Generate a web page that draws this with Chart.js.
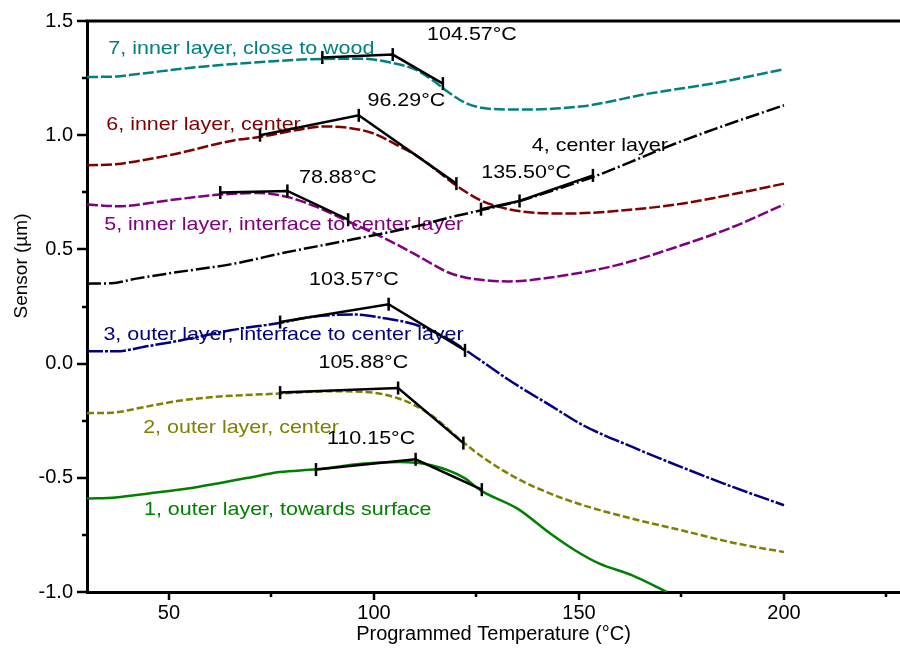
<!DOCTYPE html>
<html>
<head>
<meta charset="utf-8">
<script src="https://cdn.jsdelivr.net/npm/chart.js@4.4.1/dist/chart.umd.min.js"></script>
<style>
  html, body { margin: 0; padding: 0; background: #fff; }
  #wrap { width: 900px; height: 648px; }
</style>
</head>
<body>
<div id="wrap"><canvas id="chart" width="900" height="648"></canvas></div>
<script>
// Sensor displacement (µm) against programmed temperature (°C), one trace per sensor position
const temp1 = [30, 37, 45, 57, 69, 77, 86, 97, 106, 114, 122, 126, 135, 143, 149, 155, 163, 171.5];
const sensor1 = [-0.591, -0.586, -0.569, -0.540, -0.501, -0.475, -0.463, -0.438, -0.431, -0.445, -0.500, -0.555, -0.635, -0.744, -0.817, -0.876, -0.927, -1.0];

const temp2 = [30, 36, 44, 52, 61, 77, 90, 98, 106, 113.5, 122, 127, 135, 143, 151, 163, 175, 187.5, 200];
const sensor2 = [-0.217, -0.215, -0.190, -0.164, -0.146, -0.131, -0.121, -0.124, -0.153, -0.220, -0.348, -0.416, -0.504, -0.569, -0.620, -0.679, -0.730, -0.784, -0.825];

const temp3 = [30, 37, 45, 53, 65, 77, 85, 95, 103, 110, 118, 123, 126, 133, 143, 151, 163, 175, 187.5, 200];
const sensor3 = [0.054, 0.054, 0.077, 0.102, 0.146, 0.178, 0.205, 0.215, 0.197, 0.171, 0.109, 0.051, 0.014, -0.073, -0.183, -0.270, -0.365, -0.453, -0.540, -0.620];

const temp4 = [30, 36, 42, 50, 66, 78, 90, 98, 110, 118, 126, 135.5, 144, 153.4, 164, 171.3, 183.4, 200];
const sensor4 = [0.350, 0.352, 0.372, 0.395, 0.438, 0.485, 0.527, 0.555, 0.600, 0.638, 0.671, 0.712, 0.760, 0.817, 0.893, 0.948, 1.029, 1.131];

const temp5 = [30, 37.5, 50, 62.5, 72, 79, 86, 94, 102, 110.5, 114, 118, 122, 127, 133, 143, 159, 175, 187.5, 200];
const sensor5 = [0.697, 0.689, 0.715, 0.740, 0.747, 0.729, 0.686, 0.620, 0.554, 0.474, 0.438, 0.400, 0.378, 0.365, 0.360, 0.377, 0.430, 0.518, 0.598, 0.697];

const temp6 = [30, 37, 50, 66, 72, 82, 88, 94, 100, 105.5, 110, 115, 120, 126, 131, 136, 147, 159, 175, 191.5, 200];
const sensor6 = [0.868, 0.873, 0.912, 0.978, 0.992, 1.025, 1.038, 1.032, 1.007, 0.958, 0.915, 0.850, 0.781, 0.715, 0.684, 0.666, 0.657, 0.668, 0.700, 0.756, 0.788];

const temp7 = [30, 37, 42, 58, 74, 85, 97, 104, 110, 114, 118, 122.5, 127.5, 135, 151, 167, 183.5, 200];
const sensor7 = [1.255, 1.257, 1.267, 1.300, 1.322, 1.333, 1.335, 1.318, 1.288, 1.245, 1.190, 1.140, 1.117, 1.112, 1.127, 1.182, 1.229, 1.289];

// Onset temperatures (°C) from the tangent construction, sensors 1..7
const onsetTemps = [110.15, 105.88, 103.57, 135.50, 78.88, 96.29, 104.57];

// Tangent construction: [start, onset, end] temperature and sensor readings
const tangentTemps = [
  [85.85, onsetTemps[0], 126.3],
  [77.1, onsetTemps[1], 121.8],
  [77.1, onsetTemps[2], 122.2],
  [126.1, onsetTemps[3], 153.4],
  [62.5, onsetTemps[4], 93.7],
  [72.2, onsetTemps[5], 120.1],
  [87.4, onsetTemps[6], 116.8]
];
const tangentSensor = [
  [-0.464, -0.419, -0.552],
  [-0.127, -0.107, -0.348],
  [0.182, 0.260, 0.058],
  [0.676, 0.712, 0.824],
  [0.749, 0.756, 0.630],
  [1.000, 1.087, 0.788],
  [1.340, 1.353, 1.226]
];

const seriesNames = [
  '1, outer layer, towards surface',
  '2, outer layer, center',
  '3, outer layer, interface to center layer',
  '4, center layer',
  '5, inner layer, interface to center layer',
  '6, inner layer, center',
  '7, inner layer, close to wood'
];

const xTickValues = [50, 75, 100, 125, 150, 175, 200, 225];
const yTickValues = [-1.0, -0.75, -0.5, -0.25, 0, 0.25, 0.5, 0.75, 1.0, 1.25, 1.5];

// ---- styling -------------------------------------------------------------
const FONT = '"Liberation Sans", Arial, Helvetica, sans-serif';
const seriesColors = ['#008000', '#808000', '#000080', '#000000', '#800080', '#800000', '#008080'];
const seriesDash = [[], [7, 3], [16, 2, 3, 2], [14, 3, 2, 3], [11, 3], [11, 3], [11, 3]];

// where the series names and onset values sit, in axis units (left edge / centre)
const nameAnchors = [[43.9, -0.642], [43.7, -0.283], [34.0, 0.124], [138.5, 0.952], [34.2, 0.609], [34.7, 1.043], [35.2, 1.376]];
const onsetAnchors = [[99.3, -0.328], [97.4, 0.001], [95.1, 0.365], [137.1, 0.833], [91.2, 0.811], [107.9, 1.148], [123.9, 1.437]];

const toXY = (xs, ys) => xs.map((x, i) => ({ x: x, y: ys[i] }));
const temps = [temp1, temp2, temp3, temp4, temp5, temp6, temp7];
const sensors = [sensor1, sensor2, sensor3, sensor4, sensor5, sensor6, sensor7];

const datasets = [];
temps.forEach((t, i) => {
  datasets.push({
    label: seriesNames[i],
    data: toXY(t, sensors[i]),
    borderColor: seriesColors[i],
    borderWidth: 2.5,
    borderDash: seriesDash[i],
    pointRadius: 0,
    cubicInterpolationMode: 'monotone',
    fill: false,
    order: 1
  });
});
tangentTemps.forEach((t, i) => {
  datasets.push({
    label: 'onset ' + (i + 1),
    data: toXY(t, tangentSensor[i]),
    borderColor: '#000',
    borderWidth: 2.5,
    tension: 0,
    pointStyle: 'line',
    rotation: 90,
    pointRadius: 6.5,
    pointBorderWidth: 2.5,
    pointBorderColor: '#000',
    fill: false,
    order: 0
  });
});

// stretched text to suit the wide face of the labels
function wideText(ctx, text, px, py, color, align) {
  ctx.save();
  ctx.translate(px, py);
  ctx.scale(1.16, 1);
  ctx.font = '18.5px ' + FONT;
  ctx.fillStyle = color;
  ctx.textAlign = align;
  ctx.textBaseline = 'middle';
  ctx.fillText(text, 0, 0);
  ctx.restore();
}

const labelsPlugin = {
  id: 'labels',
  beforeDatasetsDraw(chart) {
    const { ctx, scales: { x, y } } = chart;
    nameAnchors.forEach((a, i) => {
      wideText(ctx, seriesNames[i], x.getPixelForValue(a[0]), y.getPixelForValue(a[1]), seriesColors[i], 'left');
    });
    onsetAnchors.forEach((a, i) => {
      wideText(ctx, onsetTemps[i].toFixed(2) + '°C', x.getPixelForValue(a[0]), y.getPixelForValue(a[1]), '#000', 'center');
    });
  }
};

const framePlugin = {
  id: 'frame',
  afterDraw(chart) {
    const { ctx, chartArea: a, scales: { x, y } } = chart;
    ctx.save();
    ctx.strokeStyle = '#000';
    ctx.lineWidth = 2.5;
    ctx.beginPath();
    xTickValues.forEach(v => {
      const px = Math.round(x.getPixelForValue(v));
      const len = v % 50 === 0 ? 8 : 5;
      ctx.moveTo(px, a.bottom);
      ctx.lineTo(px, a.bottom + len);
    });
    yTickValues.forEach(v => {
      const py = Math.round(y.getPixelForValue(v));
      const major = Math.abs(v * 2 - Math.round(v * 2)) < 1e-9;
      ctx.moveTo(a.left - (major ? 10 : 5), py);
      ctx.lineTo(a.left, py);
    });
    ctx.stroke();
    ctx.lineWidth = 3;
    ctx.beginPath();
    ctx.moveTo(a.left - 1.5, a.top);
    ctx.lineTo(a.right, a.top);
    ctx.stroke();
    // vertical axis title
    ctx.translate(22, 266);
    ctx.rotate(-Math.PI / 2);
    ctx.font = '19px ' + FONT;
    ctx.fillStyle = '#000';
    ctx.textAlign = 'center';
    ctx.textBaseline = 'middle';
    ctx.fillText('Sensor (µm)', 0, 0);
    ctx.restore();
  }
};

new Chart(document.getElementById('chart'), {
  type: 'line',
  data: { datasets: datasets },
  plugins: [labelsPlugin, framePlugin],
  options: {
    responsive: false,
    animation: false,
    devicePixelRatio: 1,
    layout: { autoPadding: false, padding: { top: 21, right: 0, bottom: 0, left: 0 } },
    plugins: { legend: { display: false }, tooltip: { enabled: false } },
    scales: {
      x: {
        type: 'linear',
        min: 30,
        max: 228.3,
        afterBuildTicks: s => { s.ticks = xTickValues.map(v => ({ value: v })); },
        afterFit: s => { s.height = 56; s.paddingLeft = 0; s.paddingRight = 0; },
        ticks: {
          autoSkip: false,
          maxRotation: 0,
          padding: 9,
          color: '#000',
          font: { family: FONT, size: 20 },
          callback: v => (v % 50 === 0 ? String(v) : '')
        },
        grid: { display: false, drawTicks: false },
        border: { display: true, color: '#000', width: 3 },
        title: {
          display: true,
          text: 'Programmed Temperature (°C)',
          color: '#000',
          font: { family: FONT, size: 20 },
          padding: { top: 0, bottom: 2 }
        }
      },
      y: {
        type: 'linear',
        min: -1.0,
        max: 1.5,
        afterBuildTicks: s => { s.ticks = yTickValues.map(v => ({ value: v })); },
        afterFit: s => { s.width = 87; s.paddingTop = 0; s.paddingBottom = 0; },
        ticks: {
          autoSkip: false,
          padding: 14,
          color: '#000',
          font: { family: FONT, size: 20 },
          callback: v => (Math.abs(v * 2 - Math.round(v * 2)) < 1e-9 ? v.toFixed(1) : '')
        },
        grid: { display: false, drawTicks: false },
        border: { display: true, color: '#000', width: 3 }
      }
    }
  }
});
</script>
</body>
</html>
